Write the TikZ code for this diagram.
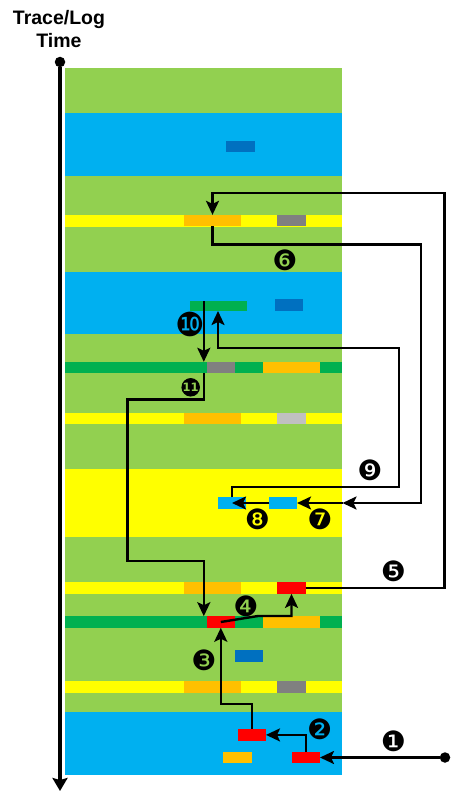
\documentclass[tikz,border=0pt]{standalone}
\usepackage{fontspec}
\setmainfont{Liberation Sans}
\newfontfamily\dingfont{DejaVu Sans}
\usetikzlibrary{arrows.meta,positioning}
\definecolor{lgreen}{HTML}{92D050}
\definecolor{dgreen}{HTML}{00B050}
\definecolor{cblue}{HTML}{00B0F0}
\definecolor{dblue}{HTML}{0070C0}
\definecolor{ylw}{HTML}{FFFF00}
\definecolor{orng}{HTML}{FFC000}
\definecolor{gry}{HTML}{808080}
\definecolor{lgry}{HTML}{C0C0C0}
\definecolor{rd}{HTML}{FF0000}

\begin{document}
\begin{tikzpicture}[x=1pt,y=-1pt,
    blk/.style={inner sep=0pt,outer sep=0pt,minimum height=11.5pt,minimum width=28.4pt},
    wide/.style={blk,minimum width=57pt},
    conn/.style={line width=2.4pt,-{Stealth[length=14pt,width=13pt,inset=3pt]}},
    num/.style={font=\dingfont\fontsize{28}{28}\selectfont,inner sep=0pt},
    dot/.style={circle,fill=black,inner sep=0pt,minimum size=10.5pt}]
  \useasboundingbox (0,0) rectangle (450,792);

  % title and time axis
  \node [font=\bfseries\fontsize{19.5}{22.3}\selectfont,align=center,anchor=base]
    (title) at (59,47.3) {Trace/Log\\Time};
  \node [dot] (tdot) at (60,62) {};
  \coordinate (tend) at (60,791);
  \draw [line width=3.2pt,-{Stealth[length=13pt,width=15pt,inset=2pt]}] (tdot) -- (tend);

  % column of bands
  \fill [lgreen] (65,68) rectangle (342,775);
  \fill [cblue] (65,113.3) rectangle (342,175.7);
  \fill [cblue] (65,271.7) rectangle (342,334);
  \fill [ylw] (65,469) rectangle (342,537);
  \fill [cblue] (65,712.3) rectangle (342,775);
  \foreach \y in {214.8,412.7,582.3,681}
    \fill [ylw] (65,\y) rectangle ++(277,11.7);
  \foreach \y in {361.8,616.2}
    \fill [dgreen] (65,\y) rectangle ++(277,11.5);

  % blocks
  \node [blk,fill=dblue,minimum height=11pt] (evt1) at (240.4,146.8) {};
  \node [wide,fill=orng] (trc1) at (212.5,220.6) {};
  \node [blk,fill=gry] (trc1g) at (291.5,220.6) {};
  \node [wide,fill=dgreen,minimum height=10pt] (span) at (218,306) {};
  \node [blk,fill=dblue,minimum height=12pt] (evt2) at (288.8,305.2) {};
  \node [blk,fill=gry] (log1g) at (220.8,367.6) {};
  \node [wide,fill=orng] (log1o) at (291.7,367.6) {};
  \node [wide,fill=orng] (trc2) at (212.5,418.5) {};
  \node [blk,fill=lgry] (trc2g) at (291.5,418.5) {};
  \node [blk,fill=cblue,minimum width=28pt] (msgb) at (232,503) {};
  \node [blk,fill=cblue,minimum width=27.7pt] (msga) at (283.2,503) {};
  \node [wide,fill=orng] (trc3) at (212.5,588.1) {};
  \node [blk,fill=rd] (req3) at (291.5,588.1) {};
  \node [blk,fill=rd] (req2) at (220.8,622) {};
  \node [wide,fill=orng] (log2o) at (291.3,622) {};
  \node [blk,fill=dblue] (evt3) at (249.2,655.8) {};
  \node [wide,fill=orng] (trc4) at (212.5,686.8) {};
  \node [blk,fill=gry] (trc4g) at (291.5,686.8) {};
  \node [blk,fill=rd] (req1) at (251.8,734.9) {};
  \node [blk,fill=rd] (req0) at (305.8,757.5) {};
  \node [blk,fill=orng,minimum width=29pt] (trc5) at (237.8,757.5) {};

  % connectors
  \node [dot] (src) at (445,757.5) {};
  \coordinate (c5) at (444.3,192.7);
  \coordinate (c6) at (421,244.3);
  \coordinate (e7) at (342.5,503);
  \coordinate (c9a) at (399,486.7);
  \coordinate (c9b) at (399,347.7);
  \coordinate (s10) at (203.8,301);
  \coordinate (t10) at (203.8,361.8);
  \coordinate (s11) at (203.8,373.3);
  \coordinate (c11a) at (127.3,399.3);
  \coordinate (c11b) at (127.3,561);
  \coordinate (t11) at (203.8,616.2);
  \coordinate (c4) at (258,616);

  \draw [conn] (src) -- (req0.east);
  \draw [conn] (req0.north) |- (req1.east);
  \draw [conn] (req1.north) -- ++(0,-25) -| (req2.south);
  \draw [conn] (req2.center) -- (c4) -| (req3.south);
  \draw [conn] (req3.east) -| (c5) -| (trc1.north);
  \draw [conn] (trc1.south) |- (c6) |- (e7);
  \draw [conn] (e7) -- (msga.east);
  \draw [conn] (msga.west) -- (msgb.center);
  \draw [conn] (msgb.north) |- (c9a) -- (c9b) -| (span.south);
  \draw [conn] (s10) -- (t10);
  \draw [conn] (s11) |- (c11a) -- (c11b) -| (t11);

  % step numbers
  \node [num] (n1) at (393.3,741) {❶};
  \node [num] (n2) at (319.7,729) {❷};
  \node [num] (n3) at (204,660) {❸};
  \node [num] (n4) at (246,606.7) {❹};
  \node [num] (n5) at (393.3,571.7) {❺};
  \node [num] (n6) at (285,260) {❻};
  \node [num] (n7) at (320,519.3) {❼};
  \node [num] (n8) at (257.3,519.3) {❽};
  \node [num] (n9) at (370,470) {❾};
  \node [num,font=\dingfont\fontsize{33}{33}\selectfont] (n10) at (190,324.3) {❿};
  \node [circle,fill=black,text=lgreen,inner sep=0pt,minimum size=18.5pt,
    font=\dingfont\bfseries\fontsize{11.5}{11.5}\selectfont] (n11) at (190.7,387.3) {11};
\end{tikzpicture}
\end{document}
